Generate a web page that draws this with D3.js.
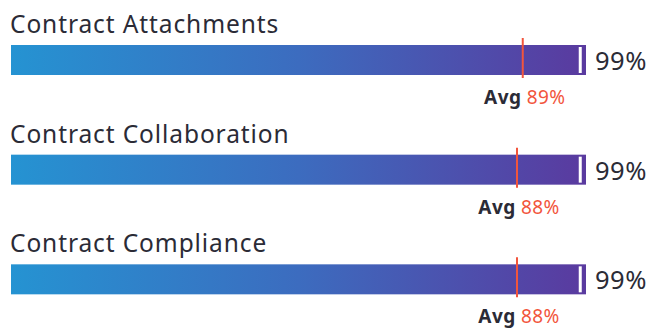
<!DOCTYPE html>
<html><head><meta charset="utf-8">
<script src="https://cdn.jsdelivr.net/npm/d3@7"></script>
<style>html,body{margin:0;padding:0;background:#fff;}svg{display:block;}</style>
</head><body>
<svg id="c" width="652" height="329"></svg>
<script>
const categories = ["Contract Attachments", "Contract Collaboration", "Contract Compliance"];
const values = [99, 99, 99];
const averages = [89, 88, 88];
const domainMax = 100;

const W = 652, H = 329;
const svg = d3.select("#c");
const font = "'Noto Sans', sans-serif";

const x = d3.scaleLinear().domain([0, domainMax]).range([11, 586]);
const y = d3.scaleBand().domain(categories).range([0, 329]).paddingInner(0).paddingOuter(0);

const defs = svg.append("defs");
const grad = defs.append("linearGradient").attr("id", "g").attr("gradientUnits", "userSpaceOnUse")
  .attr("x1", x(0)).attr("x2", x(domainMax)).attr("y1", 0).attr("y2", 0);
grad.append("stop").attr("offset", "0%").attr("stop-color", "#2593d2");
grad.append("stop").attr("offset", "50%").attr("stop-color", "#3c6cbf");
grad.append("stop").attr("offset", "100%").attr("stop-color", "#5a3a9f");

const rows = svg.selectAll("g.row").data(categories).enter().append("g")
  .attr("transform", (d) => `translate(0,${y(d) - 0})`);

const barTop = 45, barH = 30;

rows.append("text").attr("x", 10).attr("y", 33).text(d => d)
  .attr("font-family", font).attr("font-size", 24.5).attr("letter-spacing", 0.9).attr("fill", "#2b2b36");

rows.append("rect").attr("x", x(0)).attr("y", barTop).attr("width", x(domainMax) - x(0)).attr("height", barH)
  .attr("fill", "url(#g)");

rows.append("rect").attr("x", (d, i) => x(values[i]) - 1.5).attr("y", barTop + 2).attr("width", 3).attr("height", barH - 4)
  .attr("fill", "#fff");

rows.append("line").attr("x1", (d, i) => x(averages[i])).attr("x2", (d, i) => x(averages[i]))
  .attr("y1", barTop - 7).attr("y2", barTop + barH + 3)
  .attr("stroke", "#f2553c").attr("stroke-width", 2);

rows.append("text").attr("x", 595).attr("y", barTop + 25).text((d, i) => values[i] + "%")
  .attr("font-family", font).attr("font-size", 25.5).attr("letter-spacing", 0.5).attr("fill", "#2b2b36");

const avg = rows.append("text").attr("x", (d, i) => x(averages[i]) + 2).attr("y", barTop + 59)
  .attr("text-anchor", "middle").attr("font-family", font).attr("font-size", 19).attr("letter-spacing", 0.4);
avg.append("tspan").text("Avg").attr("font-weight", "bold").attr("fill", "#2b2b36");
avg.append("tspan").text((d, i) => " " + averages[i] + "%").attr("fill", "#f2553c");
</script>
</body></html>
